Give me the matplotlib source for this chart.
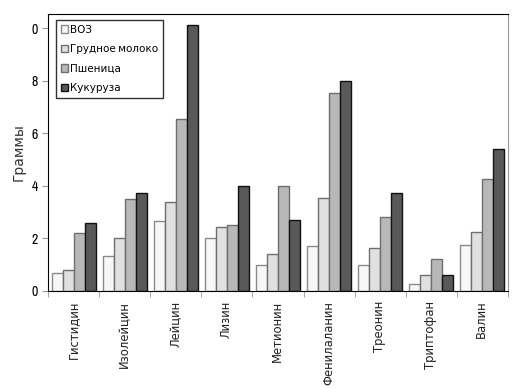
import numpy as np
import matplotlib
matplotlib.use("Agg")
import matplotlib.pyplot as plt
from matplotlib import font_manager

# data
categories = ["Гистидин", "Изолейцин", "Лейцин", "Лизин", "Метионин",
              "Фенилаланин", "Треонин", "Триптофан", "Валин"]
voz = [0.68, 1.35, 2.65, 2.0, 1.0, 1.7, 1.0, 0.25, 1.75]
milk = [0.8, 2.0, 3.4, 2.45, 1.4, 3.55, 1.65, 0.6, 2.25]
wheat = [2.2, 3.5, 6.55, 2.5, 4.0, 7.55, 2.8, 1.2, 4.27]
corn = [2.6, 3.75, 10.15, 4.0, 2.7, 8.0, 3.75, 0.6, 5.4]
series_names = ["ВОЗ", "Грудное молоко", "Пшеница", "Кукуруза"]
ytick_vals = [0, 2, 4, 6, 8, 10]
ytick_labels = ["0", "2", "4", "6", "8", "0"]

# narrow font if there is one
fams = sorted({(f.name, f.stretch) for f in font_manager.fontManager.ttflist})
narrow = [n for n, s in fams if "Narrow" in n or "Condensed" in n]
cond = [n for n, s in fams if s in ("condensed", 625, 75, "semi-condensed", 87.5, 750)]
if narrow:
    plt.rcParams["font.family"] = [narrow[0], "DejaVu Sans"]
elif cond:
    plt.rcParams["font.family"] = [cond[0], "DejaVu Sans"]
    plt.rcParams["font.stretch"] = "condensed"
else:
    plt.rcParams["font.family"] = ["DejaVu Sans"]
    plt.rcParams["font.stretch"] = "condensed"

fig = plt.figure(figsize=(5.23, 3.89), dpi=100)
ax = fig.add_axes([0.092, 0.252, 0.879, 0.712])

x = np.arange(len(categories))
w = 0.215
fills = ["#f7f7f7", "#e0e0e0", "#b8b8b8", "#595959"]
edges = ["#8a8a8a", "#6e6e6e", "#6e6e6e", "#111111"]
data = [voz, milk, wheat, corn]
for i, (vals, name) in enumerate(zip(data, series_names)):
    ax.bar(x + (i - 1.5) * w, vals, w, color=fills[i], edgecolor=edges[i],
           linewidth=1.0, label=name)

ax.set_xlim(-0.5, len(categories) - 0.5)
ax.set_ylim(0, 10.55)
ax.set_yticks(ytick_vals)
ax.set_yticklabels(ytick_labels, fontsize=10)
ax.set_xticks(x)
ax.set_xticklabels(categories, rotation=90, fontsize=8.4, color="#222222")
ax.tick_params(axis="x", length=0, pad=7)
ax.set_xticks(np.arange(-0.5, len(categories)), minor=True)
ax.tick_params(axis="x", which="minor", length=4, color="#999999")
ax.tick_params(axis="y", length=4, color="#999999")
ax.set_ylabel("Граммы", fontsize=10, color="#333333")

for side in ["left", "bottom", "top"]:
    ax.spines[side].set_color("black")
ax.spines["right"].set_color("#999999")

leg = ax.legend(loc="upper left", bbox_to_anchor=(0.017, 0.978), fontsize=7.5,
                frameon=True, fancybox=False, handlelength=0.7, handleheight=0.7,
                handletextpad=0.2, borderpad=0.45, labelspacing=0.9,
                borderaxespad=0)
leg.get_frame().set_edgecolor("black")
leg.get_frame().set_linewidth(1.0)

fig.savefig("out.png", dpi=100)
